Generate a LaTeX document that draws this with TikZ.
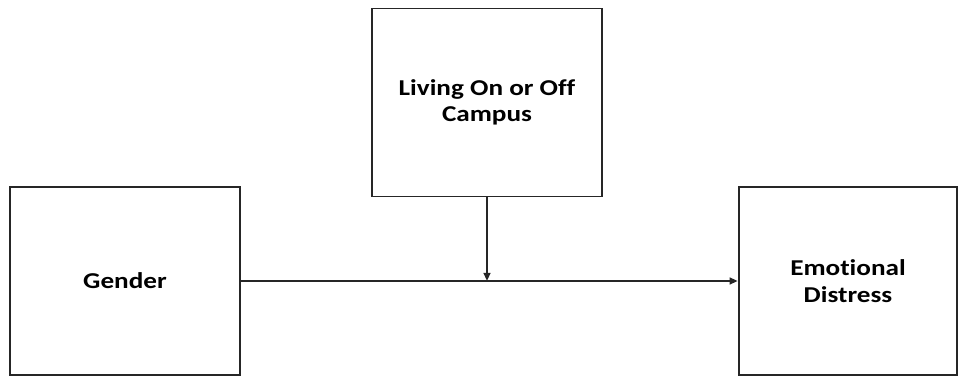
\documentclass[tikz,border=0pt]{standalone}
\usepackage{fontspec}
\setmainfont{Carlito}[FakeStretch=1.2,Ligatures=NoCommon]
\usetikzlibrary{arrows.meta}
\definecolor{ink}{HTML}{262626}

\begin{document}
\begin{tikzpicture}[x=0.75pt,y=0.75pt,
    box/.style={draw=ink,line width=1.4pt,align=center,inner sep=0pt,
      font=\fontsize{17}{20}\selectfont\bfseries},
    link/.style={draw=ink,line width=1.4pt,-{Triangle[length=6pt,width=5pt]}}]
  \useasboundingbox (0,0) rectangle (959,377);
  % the three variables
  \node[box,minimum width=172.5pt,minimum height=141pt] (gender) at (125,96) {Gender};
  \node[box,minimum width=172.5pt,minimum height=141pt] (living) at (487,274.5) {Living On or Off\\Campus};
  \node[box,minimum width=164pt,minimum height=141pt] (distress) at (848,96) {Emotional\\Distress};
  % main path and moderator
  \draw[link] (gender.east) -- (distress.west);
  \coordinate (meet) at (living.south |- gender.east);
  \draw[link] (living.south) -- (meet);
\end{tikzpicture}
\end{document}
